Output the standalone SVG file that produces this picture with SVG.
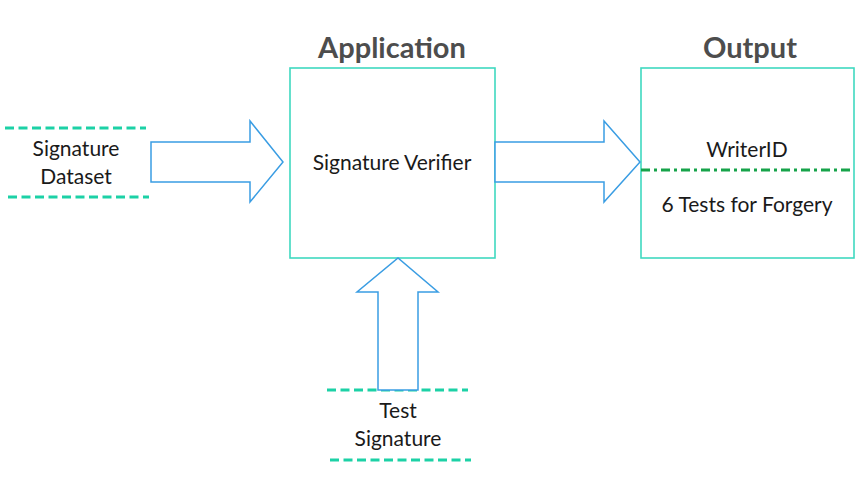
<svg xmlns="http://www.w3.org/2000/svg" width="862" height="479" viewBox="0 0 862 479">
<style>
.box{fill:#fff;stroke:#3fd9c0;stroke-width:1.6}
.arr{fill:#fff;stroke:#3a9de3;stroke-width:1.5;stroke-linejoin:miter}
.dash{stroke:#1cd1a6;stroke-width:3.2;stroke-dasharray:9 4.5;fill:none}
.dd{stroke:#16a34a;stroke-width:3;stroke-dasharray:9 4 3 4;fill:none}
.t{font-family:Lato,"Open Sans","Liberation Sans",sans-serif;font-size:21px;fill:#1a1a1a;text-anchor:middle}
.h{font-family:Lato,"Open Sans","Liberation Sans",sans-serif;font-size:29px;font-weight:bold;fill:#4d4d4d;text-anchor:middle}
</style>
<rect width="862" height="479" fill="#fff"/>
<text class="h" x="392" y="58">Application</text>
<text class="h" x="750" y="58">Output</text>
<g id="application">
<rect class="box" x="290" y="68" width="205" height="190"/>
<text class="t" x="392" y="170">Signature Verifier</text>
</g>
<g id="output">
<rect class="box" x="641" y="68" width="213" height="190"/>
<text class="t" x="747" y="157">WriterID</text>
<line class="dd" x1="641" y1="170" x2="854" y2="170"/>
<text class="t" x="747" y="212">6 Tests for Forgery</text>
</g>
<g id="dataset">
<line class="dash" x1="5" y1="128" x2="146" y2="128"/>
<text class="t" x="76" y="156">Signature</text>
<text class="t" x="76" y="184">Dataset</text>
<line class="dash" x1="8" y1="197" x2="149" y2="197"/>
</g>
<g id="test-signature">
<line class="dash" x1="327" y1="390" x2="468" y2="390"/>
<text class="t" x="398" y="418">Test</text>
<text class="t" x="398" y="446">Signature</text>
<line class="dash" x1="330" y1="460" x2="471" y2="460"/>
</g>
<g id="connectors">
<polygon class="arr" points="151,142 250,142 250,121 283,162 250,202 250,182 151,182"/>
<polygon class="arr" points="495,142 604,142 604,121 640,162 604,202 604,182 495,182"/>
<polygon class="arr" points="378,390 378,292 357,292 398,258 438,292 418,292 418,390"/>
</g>
</svg>
